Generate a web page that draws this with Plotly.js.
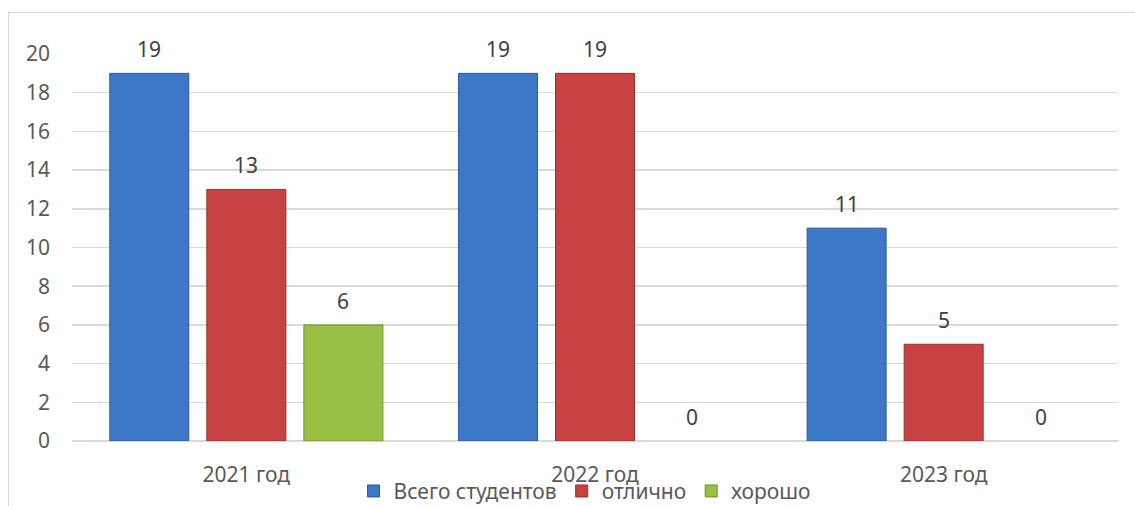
<!DOCTYPE html>
<html>
<head>
<meta charset="utf-8">
<script src="https://cdn.plot.ly/plotly-3.0.1.min.js"></script>
<style>
  html, body { margin: 0; padding: 0; background: #fff; }
  #wrap { position: relative; width: 1135px; height: 506px; overflow: hidden; }
  #frame { position: absolute; left: 8px; top: 12px; width: 1140px; height: 520px; border: 1px solid #D9D9D9; box-sizing: border-box; }
  #chart { position: absolute; left: 0; top: 0; width: 1135px; height: 506px; }
</style>
</head>
<body>
<div id="wrap">
  <div id="frame"></div>
  <div id="chart"></div>
</div>
<script>
const categories = ['2021 год', '2022 год', '2023 год'];
const seriesNames = ['Всего студентов', 'отлично', 'хорошо'];
const totalStudents = [19, 19, 11];
const excellent = [13, 19, 5];
const good = [6, 0, 0];
const yTicks = [0, 2, 4, 6, 8, 10, 12, 14, 16, 18, 20];

const seriesValues = [totalStudents, excellent, good];
const fills = ['#3D78C6', '#C94242', '#9BBF45'];
const edges = ['#2B5A96', '#962E2E', '#6F8E2E'];
const FONT = 'Noto Sans, Segoe UI, sans-serif';
const FS = 21;

const traces = seriesValues.map((vals, i) => ({
  type: 'bar',
  name: seriesNames[i],
  x: categories,
  y: vals,
  marker: { color: fills[i], line: { color: edges[i], width: vals.map(v => v > 0 ? 1 : 0) } },
  hoverinfo: 'none'
}));

const slotPx = 97;
const annotations = [];
seriesValues.forEach((vals, i) => {
  vals.forEach((v, j) => {
    annotations.push({
      x: categories[j], y: v, xref: 'x', yref: 'y',
      text: String(v), showarrow: false,
      xshift: (i - 1) * slotPx, yshift: 8, yanchor: 'bottom',
      font: { family: FONT, size: FS, color: '#404040' }
    });
  });
});

const layout = {
  width: 1135, height: 506,
  margin: { l: 72, r: 17, t: 54, b: 65, autoexpand: false },
  paper_bgcolor: 'rgba(0,0,0,0)',
  plot_bgcolor: 'rgba(0,0,0,0)',
  barmode: 'group',
  bargap: 0.165,
  bargroupgap: 0.186,
  font: { family: FONT, size: FS, color: '#595959' },
  xaxis: {
    type: 'category', automargin: false,
    showgrid: false, zeroline: false, showline: false,
    ticks: '', ticklabelstandoff: 19,
    tickfont: { family: FONT, size: FS, color: '#595959' }
  },
  yaxis: {
    range: [0, 20], automargin: false,
    tickvals: yTicks,
    ticktext: yTicks.map(String),
    showgrid: true, gridcolor: '#D9D9D9', gridwidth: 1.5,
    zeroline: true, zerolinecolor: '#D9D9D9', zerolinewidth: 1.5,
    showline: false, ticks: '', ticklabelstandoff: 21,
    tickfont: { family: FONT, size: FS, color: '#595959' }
  },
  showlegend: true,
  legend: {
    orientation: 'h', x: 0.49, xanchor: 'center', y: -0.13, yanchor: 'middle',
    font: { family: FONT, size: FS, color: '#595959' },
    bgcolor: 'rgba(0,0,0,0)', traceorder: 'normal'
  },
  annotations: annotations
};

Plotly.newPlot('chart', traces, layout, { displayModeBar: false, staticPlot: true });
</script>
</body>
</html>
